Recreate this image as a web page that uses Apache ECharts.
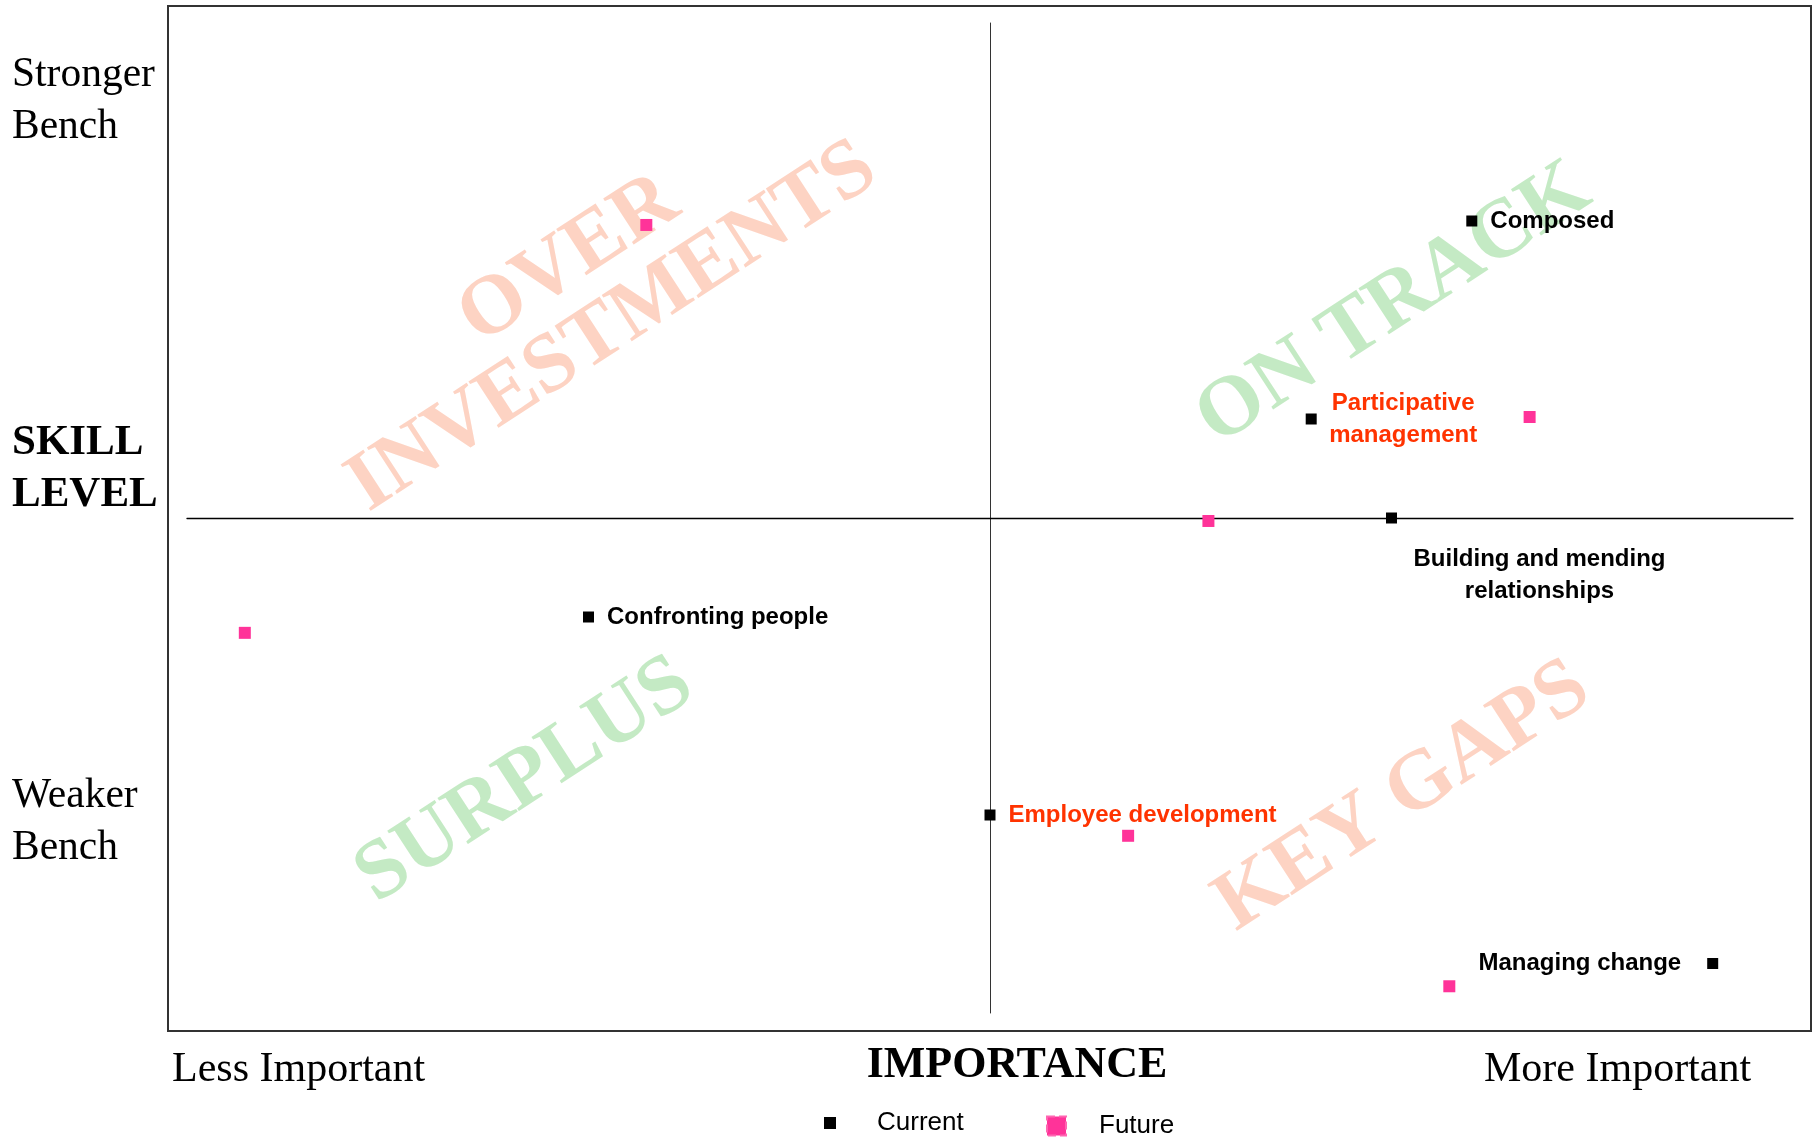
<!DOCTYPE html>
<html>
<head>
<meta charset="utf-8">
<script src="https://cdn.jsdelivr.net/npm/echarts@6/dist/echarts.min.js"></script>
<style>html,body{margin:0;padding:0;background:#fff;}#c{width:1814px;height:1137px;}</style>
</head>
<body>
<div id="c"></div>
<script>
// ---- data ----
const skills = ['Composed', 'Participative management', 'Building and mending relationships', 'Confronting people', 'Employee development', 'Managing change'];
const skillLabels = ['Composed', 'Participative\nmanagement', 'Building and mending\nrelationships', 'Confronting people', 'Employee development', 'Managing change'];
const currentImportance = [3, 2, 2.5, -2.5, 0, 4.5];
const currentSkill = [3, 1, 0, -1, -3, -4.5];
const futureImportance = [-2.14, 3.36, 1.36, -4.64, 0.86, 2.86];
const futureSkill = [2.96, 1.02, -0.03, -1.16, -3.21, -4.73];
const seriesNames = ['Current', 'Future'];
const quadrantNames = ['OVER\nINVESTMENTS', 'ON TRACK', 'SURPLUS', 'KEY GAPS'];
const yAxisTexts = ['Stronger\nBench', 'SKILL\nLEVEL', 'Weaker\nBench'];
const xAxisTexts = ['Less Important', 'IMPORTANCE', 'More Important'];

// ---- styles ----
const RED = '#FF3300';
const PINK = '#FF3399';
const SALMON = '#FDD3C3';
const GREEN = '#C4EAC4';
const labelStyles = [
  {position: 'right', distance: 13},
  {position: 'inside', offset: [92, 0], align: 'center', color: RED},
  {position: 'inside', offset: [148, 57], align: 'center'},
  {position: 'right', distance: 13},
  {position: 'right', distance: 13, color: RED},
  {position: 'left', distance: 26}
];
const quadrantStyle = [
  {x: 591, y: 294, color: SALMON},
  {x: 1394, y: 305, color: GREEN},
  {x: 525, y: 781, color: GREEN},
  {x: 1403, y: 797, color: SALMON}
];

const currentData = skills.map((s, i) => ({
  name: s,
  value: [currentImportance[i], currentSkill[i]],
  label: Object.assign({
    show: true,
    formatter: skillLabels[i],
    color: '#000',
    opacity: 1,
    fontFamily: 'Liberation Sans, Arial, sans-serif',
    fontWeight: 'bold',
    fontSize: 24,
    lineHeight: 32
  }, labelStyles[i])
}));
const futureData = skills.map((s, i) => ({name: s, value: [futureImportance[i], futureSkill[i]]}));

const serif = 'Liberation Serif, Times New Roman, serif';
const graphics = [];
quadrantNames.forEach((q, i) => {
  graphics.push({
    type: 'text', x: quadrantStyle[i].x, y: quadrantStyle[i].y, rotation: 33 * Math.PI / 180, z: 0,
    style: {text: q, fill: quadrantStyle[i].color, font: 'bold 84px ' + serif, textAlign: 'center', textVerticalAlign: 'middle', lineHeight: 80}
  });
});
const yPos = [101, 469, 822];
yAxisTexts.forEach((t, i) => {
  graphics.push({
    type: 'text', x: 12, y: yPos[i], z: 5,
    style: {text: t, fill: '#000', font: (i === 1 ? 'bold 43px ' : '41.5px ') + serif, lineHeight: 52, textAlign: 'left', textVerticalAlign: 'middle'}
  });
});
const xPos = [{x: 172, a: 'left'}, {x: 1017, a: 'center'}, {x: 1484, a: 'left'}];
xAxisTexts.forEach((t, i) => {
  graphics.push({
    type: 'text', x: xPos[i].x, y: i === 1 ? 1066 : 1070, z: 5,
    style: {text: t, fill: '#000', font: (i === 1 ? 'bold 44px ' : '42px ') + serif, textAlign: xPos[i].a, textVerticalAlign: 'middle'}
  });
});

const chart = echarts.init(document.getElementById('c'), null, {renderer: 'canvas'});
chart.setOption({
  animation: false,
  backgroundColor: '#fff',
  grid: [
    {left: 187, right: 21, top: 23, bottom: 124, show: false},
    {left: 168, right: 3, top: 6, bottom: 106, show: true, borderColor: '#333', borderWidth: 2, backgroundColor: 'transparent', z: 1}
  ],
  xAxis: [
    {type: 'value', gridIndex: 0, min: -5, max: 5,
     axisLine: {show: true, onZero: true, lineStyle: {color: '#000', width: 1.3}},
     axisTick: {show: false}, axisLabel: {show: false}, splitLine: {show: false}},
    {type: 'value', gridIndex: 1, show: false}
  ],
  yAxis: [
    {type: 'value', gridIndex: 0, min: -5, max: 5,
     axisLine: {show: true, onZero: true, lineStyle: {color: '#333', width: 1}},
     axisTick: {show: false}, axisLabel: {show: false}, splitLine: {show: false}},
    {type: 'value', gridIndex: 1, show: false}
  ],
  legend: [
    {data: [{name: seriesNames[0], icon: 'rect'}], left: 819, top: 1105, itemWidth: 12, itemHeight: 12,
     itemStyle: {color: '#000', opacity: 1},
     textStyle: {fontFamily: 'Liberation Sans, Arial, sans-serif', fontSize: 26, color: '#000', padding: [5, 0, 0, 36]}},
    {data: [{name: seriesNames[1], icon: 'rect'}], left: 1041, top: 1108, itemWidth: 19, itemHeight: 19,
     itemStyle: {color: PINK, opacity: 1, borderColor: '#FF66B2', borderWidth: 2, borderType: 'dashed'},
     textStyle: {fontFamily: 'Liberation Sans, Arial, sans-serif', fontSize: 26, color: '#000', padding: [2, 0, 0, 28]}}
  ],
  graphic: graphics,
  series: [
    {name: seriesNames[0], type: 'scatter', xAxisIndex: 0, yAxisIndex: 0, symbol: 'rect', symbolSize: 11, z: 4,
     itemStyle: {color: '#000', opacity: 1}, data: currentData},
    {name: seriesNames[1], type: 'scatter', xAxisIndex: 0, yAxisIndex: 0, symbol: 'rect', symbolSize: 12, z: 3,
     itemStyle: {color: PINK, opacity: 1}, data: futureData}
  ]
});
</script>
</body>
</html>
